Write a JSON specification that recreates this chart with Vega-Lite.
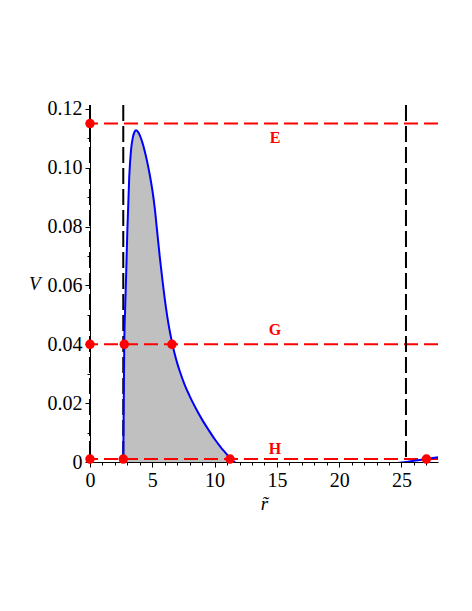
{
  "$schema": "https://vega.github.io/schema/vega-lite/v6.json",
  "autosize": "none",
  "padding": {"left": 90, "top": 105, "right": 34, "bottom": 149},
  "width": 348,
  "height": 357,
  "background": "white",
  "view": {"stroke": null},
  "config": {
    "axis": {
      "labelFont": "Liberation Serif",
      "labelFontSize": 20,
      "labelColor": "black",
      "labelOverlap": false,
      "labelFlush": false,
      "titleFont": "Liberation Serif",
      "titleFontSize": 19,
      "titleFontWeight": "normal",
      "titleFontStyle": "italic",
      "titleColor": "black",
      "domainColor": "black",
      "tickColor": "black",
      "grid": false
    }
  },
  "resolve": {"axis": {"x": "independent", "y": "independent"}},
  "datasets": {
    "curve": [
      {"r": 2.67, "V": 0.0},
      {"r": 2.71, "V": 0.02},
      {"r": 2.75, "V": 0.04},
      {"r": 2.82, "V": 0.052},
      {"r": 2.89, "V": 0.062},
      {"r": 3.0, "V": 0.079},
      {"r": 3.15, "V": 0.097},
      {"r": 3.3, "V": 0.1063},
      {"r": 3.45, "V": 0.1105},
      {"r": 3.58, "V": 0.1122},
      {"r": 3.69, "V": 0.1127},
      {"r": 3.85, "V": 0.1122},
      {"r": 4.0, "V": 0.111},
      {"r": 4.2, "V": 0.1086},
      {"r": 4.4, "V": 0.1055},
      {"r": 4.6, "V": 0.1018},
      {"r": 4.8, "V": 0.0975},
      {"r": 5.0, "V": 0.0925},
      {"r": 5.2, "V": 0.0862},
      {"r": 5.35, "V": 0.08},
      {"r": 5.6, "V": 0.0697},
      {"r": 5.83, "V": 0.0612},
      {"r": 6.0, "V": 0.0554},
      {"r": 6.2, "V": 0.0495},
      {"r": 6.4, "V": 0.0445},
      {"r": 6.6, "V": 0.0403},
      {"r": 6.8, "V": 0.0367},
      {"r": 7.0, "V": 0.0336},
      {"r": 7.2, "V": 0.0309},
      {"r": 7.6, "V": 0.0262},
      {"r": 8.0, "V": 0.0224},
      {"r": 8.5, "V": 0.0182},
      {"r": 9.0, "V": 0.0144},
      {"r": 9.5, "V": 0.011},
      {"r": 10.0, "V": 0.0078},
      {"r": 10.5, "V": 0.005},
      {"r": 11.0, "V": 0.0025},
      {"r": 11.24, "V": 0.0011},
      {"r": 11.6, "V": 0.0},
      {"r": 12.2, "V": -0.0013},
      {"r": 13.5, "V": -0.003},
      {"r": 15.5, "V": -0.0042},
      {"r": 18.0, "V": -0.0042},
      {"r": 21.0, "V": -0.003},
      {"r": 23.5, "V": -0.0012},
      {"r": 24.6, "V": -0.0004},
      {"r": 25.36, "V": 0.0},
      {"r": 26.0, "V": 0.0004},
      {"r": 27.0, "V": 0.001},
      {"r": 27.93, "V": 0.0016}
    ],
    "levels": [
      {"level": "E", "V": 0.115},
      {"level": "G", "V": 0.04},
      {"level": "H", "V": 0.001}
    ],
    "roots": [
      {"r": 0},
      {"r": 2.67},
      {"r": 25.36}
    ],
    "points": [
      {"r": 0, "V": 0.115},
      {"r": 0, "V": 0.04},
      {"r": 0, "V": 0.001},
      {"r": 2.67, "V": 0.001},
      {"r": 2.75, "V": 0.04},
      {"r": 6.58, "V": 0.04},
      {"r": 11.24, "V": 0.001},
      {"r": 27.0, "V": 0.001}
    ],
    "labels": [
      {"r": 14.85, "V": 0.1101, "text": "E"},
      {"r": 14.85, "V": 0.0449, "text": "G"},
      {"r": 14.85, "V": 0.0044, "text": "H"}
    ]
  },
  "layer": [
    {
      "data": {"name": "curve"},
      "transform": [{"filter": "datum.r <= 12.2"}],
      "mark": {"type": "area", "color": "#C0C0C0", "clip": true, "opacity": 1, "interpolate": "monotone"},
      "encoding": {
        "x": {
          "field": "r", "type": "quantitative",
          "scale": {"domain": [0, 27.93], "nice": false, "zero": false},
          "axis": {
            "orient": "bottom",
            "title": "r\u0303",
            "values": [0, 5, 10, 15, 20, 25],
            "tickSize": 5,
            "labelPadding": 3,
            "titlePadding": 4
          }
        },
        "y": {
          "field": "V", "type": "quantitative",
          "scale": {"domain": [0, 0.1213], "nice": false, "zero": false},
          "axis": {
            "orient": "left",
            "title": "V",
            "titleAngle": 0,
            "titleBaseline": "middle",
            "titleAlign": "right",
            "titlePadding": 7,
            "values": [0, 0.02, 0.04, 0.06, 0.08, 0.1, 0.12],
            "labelExpr": "datum.value === 0 ? '0' : format(datum.value, '.2f')",
            "tickSize": 5,
            "labelPadding": 3
          }
        }
      }
    },
    {
      "data": {"name": "levels"},
      "mark": {"type": "rule", "color": "#FF0000", "strokeWidth": 2, "strokeDash": [14, 6]},
      "encoding": {
        "y": {
          "field": "V", "type": "quantitative",
          "axis": {
            "orient": "left",
            "title": null,
            "values": [0.01, 0.03, 0.05, 0.07, 0.09, 0.11],
            "labels": false,
            "domain": false,
            "tickSize": 3
          }
        }
      }
    },
    {
      "data": {"name": "roots"},
      "mark": {"type": "rule", "color": "black", "strokeWidth": 2, "strokeDash": [16, 5]},
      "encoding": {
        "x": {
          "field": "r", "type": "quantitative",
          "axis": {
            "orient": "bottom",
            "title": null,
            "values": [1, 2, 3, 4, 6, 7, 8, 9, 11, 12, 13, 14, 16, 17, 18, 19, 21, 22, 23, 24, 26, 27],
            "labels": false,
            "domain": false,
            "tickSize": 3
          }
        }
      }
    },
    {
      "data": {"name": "curve"},
      "mark": {"type": "line", "color": "#0000FF", "strokeWidth": 2, "clip": true, "interpolate": "monotone"},
      "encoding": {
        "x": {"field": "r", "type": "quantitative", "axis": null},
        "y": {"field": "V", "type": "quantitative", "axis": null}
      }
    },
    {
      "data": {"name": "points"},
      "mark": {"type": "circle", "color": "#FF0000", "opacity": 1, "size": 90},
      "encoding": {
        "x": {"field": "r", "type": "quantitative", "axis": null},
        "y": {"field": "V", "type": "quantitative", "axis": null}
      }
    },
    {
      "data": {"name": "labels"},
      "mark": {"type": "text", "color": "#FF0000", "font": "Liberation Serif", "fontSize": 16, "fontWeight": "bold", "baseline": "middle", "align": "center"},
      "encoding": {
        "x": {"field": "r", "type": "quantitative", "axis": null},
        "y": {"field": "V", "type": "quantitative", "axis": null},
        "text": {"field": "text"}
      }
    }
  ]
}
